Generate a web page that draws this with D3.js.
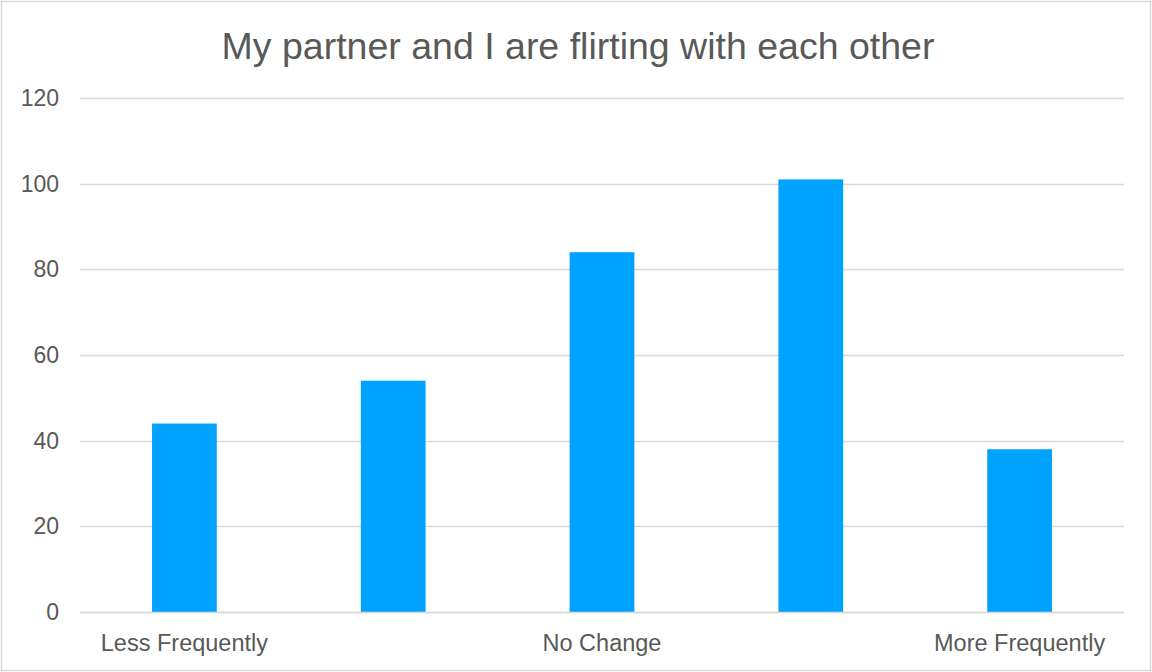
<!DOCTYPE html>
<html>
<head>
<meta charset="utf-8">
<script src="https://cdn.jsdelivr.net/npm/d3@7"></script>
<style>
  html, body { margin: 0; padding: 0; background: #fff; }
  svg { display: block; }
</style>
</head>
<body>
<svg id="chart" width="1152" height="672"></svg>
<script>
// Survey responses: "My partner and I are flirting with each other"
const categories = ["1", "2", "3", "4", "5"];
const values = [44, 54, 84, 101, 38];
const categoryLabels = ["Less Frequently", "", "No Change", "", "More Frequently"];
const yTicks = [0, 20, 40, 60, 80, 100, 120];
const title = "My partner and I are flirting with each other";

const W = 1152, H = 672;
const margin = { left: 80, right: 28, top: 98, bottom: 60 };
const font = "'Liberation Sans', Arial, Helvetica, sans-serif";
const textColor = "#595959";
const gridColor = "#d9d9d9";
const barColor = "#00a2ff";

const svg = d3.select("#chart");

// outer frame
svg.append("rect")
  .attr("x", 1.5).attr("y", 1.5)
  .attr("width", W - 3).attr("height", H - 3)
  .attr("fill", "#fff").attr("stroke", "#d9d9d9").attr("stroke-width", 1.5);

const x = d3.scaleBand()
  .domain(categories)
  .range([margin.left, W - margin.right])
  .paddingInner(0.69)
  .paddingOuter(0.345);

const y = d3.scaleLinear()
  .domain([0, 120])
  .range([H - margin.bottom, margin.top]);

// gridlines
svg.append("g")
  .selectAll("line")
  .data(yTicks)
  .join("line")
  .attr("x1", margin.left).attr("x2", W - margin.right)
  .attr("y1", d => Math.round(y(d)) + 0.5).attr("y2", d => Math.round(y(d)) + 0.5)
  .attr("stroke", gridColor).attr("stroke-width", 1.5);

// y tick labels
svg.append("g")
  .selectAll("text")
  .data(yTicks)
  .join("text")
  .attr("x", 59).attr("y", d => y(d))
  .attr("dy", "0.35em")
  .attr("text-anchor", "end")
  .attr("font-family", font).attr("font-size", 23)
  .attr("fill", textColor)
  .text(d => d);

// bars
svg.append("g")
  .selectAll("rect")
  .data(values)
  .join("rect")
  .attr("x", (d, i) => x(categories[i]))
  .attr("width", x.bandwidth())
  .attr("y", d => y(d))
  .attr("height", d => y(0) - y(d))
  .attr("fill", barColor);

// baseline
svg.append("line")
  .attr("x1", margin.left).attr("x2", W - margin.right)
  .attr("y1", y(0) + 0.5).attr("y2", y(0) + 0.5)
  .attr("stroke", gridColor).attr("stroke-width", 1.5);

// category labels
svg.append("g")
  .selectAll("text")
  .data(categories)
  .join("text")
  .attr("x", d => x(d) + x.bandwidth() / 2)
  .attr("y", 651)
  .attr("text-anchor", "middle")
  .attr("font-family", font).attr("font-size", 23.5)
  .attr("fill", textColor)
  .text((d, i) => categoryLabels[i]);

// title
svg.append("text")
  .attr("x", 578).attr("y", 59)
  .attr("text-anchor", "middle")
  .attr("font-family", font).attr("font-size", 37.5)
  .attr("fill", textColor)
  .text(title);
</script>
</body>
</html>
